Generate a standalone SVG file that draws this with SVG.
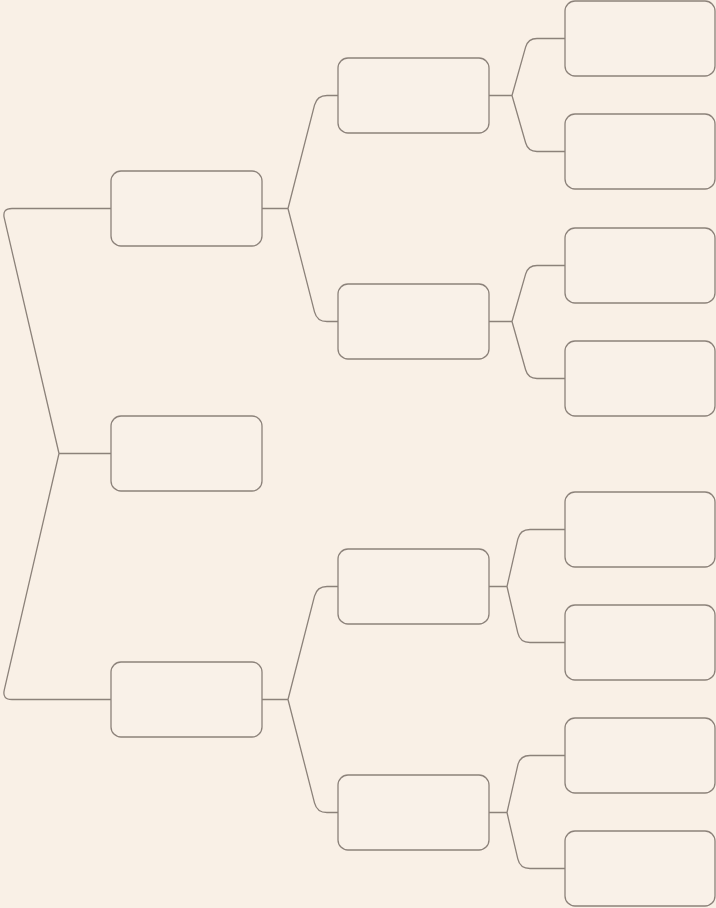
<svg xmlns="http://www.w3.org/2000/svg" width="716" height="908" viewBox="0 0 716 908">
<style>
.bg{fill:#f9f0e6}
.node rect{fill:#f9f1e8;stroke:#8c827a;stroke-width:1.3}
#connectors path{fill:none;stroke:#8c827a;stroke-width:1.3;stroke-linejoin:round}
</style>
<rect class="bg" x="0" y="0" width="716" height="908"/>
<g id="connectors">
<path d="M111 208.5 H12 Q2 208.5 4.3 218.2 L59 453.5 L4.3 689.8 Q2 699.5 12 699.5 H111 M59 453.5 H111"/>
<path d="M338 95.5 H327 Q317 95.5 314.5 105.2 L288 208.5 L314.5 311.8 Q317 321.5 327 321.5 H338 M262 208.5 H288"/>
<path d="M338 586.5 H327 Q317 586.5 314.5 596.2 L288 699.5 L314.5 802.8 Q317 812.5 327 812.5 H338 M262 699.5 H288"/>
<path d="M565 38.5 H537 Q528 38.5 525.6 47.2 L512 95.5 L525.6 142.8 Q528 151.5 537 151.5 H565 M489 95.5 H512"/>
<path d="M565 265.5 H537 Q528 265.5 525.6 274.2 L512 321.5 L525.6 369.8 Q528 378.5 537 378.5 H565 M489 321.5 H512"/>
<path d="M565 529.5 H530 Q520 529.5 517.8 539.2 L507 586.5 L517.8 632.8 Q520 642.5 530 642.5 H565 M489 586.5 H507"/>
<path d="M565 755.5 H530 Q520 755.5 517.8 765.2 L507 812.5 L517.8 858.8 Q520 868.5 530 868.5 H565 M489 812.5 H507"/>
</g>
<g id="n1" class="node"><rect x="111" y="171" width="151" height="75" rx="10"/></g>
<g id="n2" class="node"><rect x="111" y="416" width="151" height="75" rx="10"/></g>
<g id="n3" class="node"><rect x="111" y="662" width="151" height="75" rx="10"/></g>
<g id="n4" class="node"><rect x="338" y="58" width="151" height="75" rx="10"/></g>
<g id="n5" class="node"><rect x="338" y="284" width="151" height="75" rx="10"/></g>
<g id="n6" class="node"><rect x="338" y="549" width="151" height="75" rx="10"/></g>
<g id="n7" class="node"><rect x="338" y="775" width="151" height="75" rx="10"/></g>
<g id="n8" class="node"><rect x="565" y="1" width="150" height="75" rx="10"/></g>
<g id="n9" class="node"><rect x="565" y="114" width="150" height="75" rx="10"/></g>
<g id="n10" class="node"><rect x="565" y="228" width="150" height="75" rx="10"/></g>
<g id="n11" class="node"><rect x="565" y="341" width="150" height="75" rx="10"/></g>
<g id="n12" class="node"><rect x="565" y="492" width="150" height="75" rx="10"/></g>
<g id="n13" class="node"><rect x="565" y="605" width="150" height="75" rx="10"/></g>
<g id="n14" class="node"><rect x="565" y="718" width="150" height="75" rx="10"/></g>
<g id="n15" class="node"><rect x="565" y="831" width="150" height="75" rx="10"/></g>
</svg>
